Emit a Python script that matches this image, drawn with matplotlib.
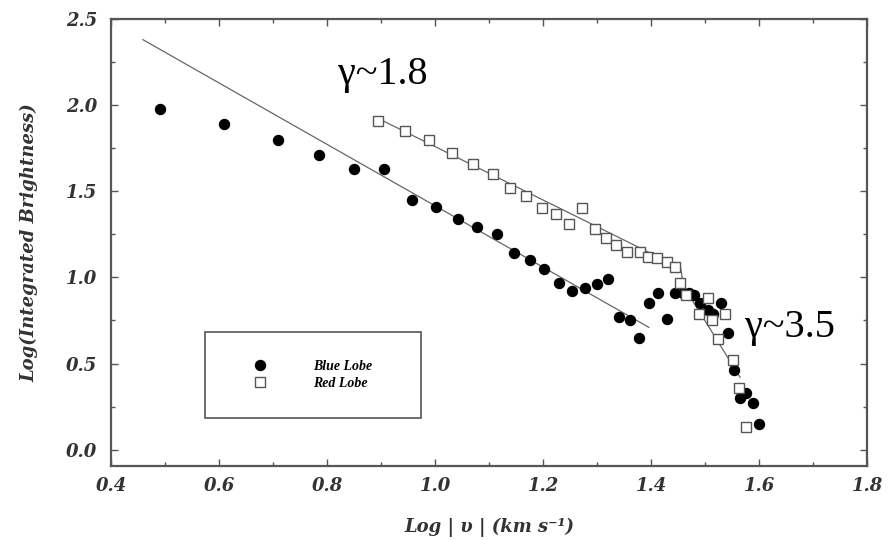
import matplotlib
matplotlib.use("Agg")
import matplotlib.pyplot as plt
import numpy as np
from matplotlib.ticker import MultipleLocator

# Blue lobe (filled circles)
blue_x = [0.49, 0.61, 0.71, 0.785, 0.85, 0.905, 0.957, 1.002, 1.043, 1.078,
          1.115, 1.146, 1.176, 1.202, 1.230, 1.254, 1.278, 1.300, 1.320, 1.341,
          1.361, 1.378, 1.396, 1.413, 1.430, 1.445, 1.46, 1.47, 1.48, 1.491,
          1.506, 1.515, 1.530, 1.543, 1.554, 1.565, 1.576, 1.589, 1.600]
blue_y = [1.98, 1.89, 1.80, 1.71, 1.63, 1.63, 1.45, 1.41, 1.34, 1.29,
          1.25, 1.14, 1.10, 1.05, 0.97, 0.92, 0.94, 0.96, 0.99, 0.77,
          0.75, 0.65, 0.85, 0.91, 0.76, 0.91, 0.91, 0.91, 0.90, 0.85,
          0.81, 0.79, 0.85, 0.68, 0.46, 0.30, 0.33, 0.27, 0.15]

# Red lobe (open squares)
red_x = [0.894, 0.944, 0.989, 1.031, 1.070, 1.108, 1.139, 1.168, 1.198, 1.224,
         1.248, 1.272, 1.296, 1.317, 1.335, 1.356, 1.380, 1.394, 1.411, 1.430,
         1.444, 1.454, 1.465, 1.489, 1.506, 1.513, 1.524, 1.537, 1.552, 1.563,
         1.576]
red_y = [1.91, 1.85, 1.80, 1.72, 1.66, 1.60, 1.52, 1.47, 1.40, 1.37,
         1.31, 1.40, 1.28, 1.23, 1.19, 1.15, 1.145, 1.12, 1.11, 1.09,
         1.06, 0.97, 0.90, 0.79, 0.88, 0.75, 0.64, 0.79, 0.52, 0.36,
         0.13]

# fitted power-law lines
blue_fit_x = [0.459, 1.396]
blue_fit_y = [2.38, 0.71]
red_fit_x = [0.89, 1.455, 1.46, 1.565]
red_fit_y = [1.93, 1.054, 0.95, 0.42]

tick_font = dict(family="DejaVu Serif", style="italic", weight="bold")

fig = plt.figure(figsize=(8.94, 5.41), dpi=100)
ax = fig.add_axes([0.1242, 0.1386, 0.8456, 0.8263])

ax.plot(blue_fit_x, blue_fit_y, color="#666666", lw=0.9)
ax.plot(red_fit_x, red_fit_y, color="#666666", lw=0.9)
ax.plot(blue_x, blue_y, "o", color="black", ms=7.2, label="Blue Lobe")
ax.plot(red_x, red_y, "s", mfc="white", mec="#555555", mew=1.0, ms=7.0,
        label="Red Lobe")

ax.set_xlim(0.4, 1.8)
ax.set_ylim(-0.095, 2.5)
ax.xaxis.set_major_locator(MultipleLocator(0.2))
ax.xaxis.set_minor_locator(MultipleLocator(0.1))
ax.yaxis.set_major_locator(MultipleLocator(0.5))
ax.yaxis.set_minor_locator(MultipleLocator(0.25))
ax.tick_params(which="both", direction="in", top=True, right=True,
               color="#555555")
ax.tick_params(which="major", length=5, width=1)
ax.tick_params(which="minor", length=3, width=1)
ax.set_xticklabels([f"{v:.1f}" for v in ax.get_xticks()], fontsize=13,
                   color="#333333", **tick_font)
ax.set_yticklabels([f"{v:.1f}" for v in ax.get_yticks()], fontsize=13,
                   color="#333333", **tick_font)
ax.tick_params(axis="x", pad=8)
ax.tick_params(axis="y", pad=10)
for s in ax.spines.values():
    s.set_linewidth(1.6)
    s.set_color("#555555")

ax.set_xlabel("Log | υ | (km s⁻¹)", fontsize=13, color="#333333",
              labelpad=16, **tick_font)
ax.set_ylabel("Log(Integrated Brightness)", fontsize=13, color="#333333",
              labelpad=20, **tick_font)

ax.text(0.82, 2.18, "γ~1.8", fontsize=29, family="Liberation Serif",
        va="center", ha="left")
ax.text(1.574, 0.71, "γ~3.5", fontsize=29, family="Liberation Serif",
        va="center", ha="left")

leg = ax.legend(loc="upper left", bbox_to_anchor=(0.124, 0.121, 0.286, 0.179),
                mode="expand", borderaxespad=0,
                prop=dict(family="Liberation Serif", style="italic",
                          weight="bold", size=10),
                borderpad=2.0, labelspacing=0.3, handlelength=4.0,
                handletextpad=1.8, fancybox=False, edgecolor="#555555",
                framealpha=1)
leg.get_frame().set_linewidth(1.2)

fig.savefig("out.png", dpi=100)
